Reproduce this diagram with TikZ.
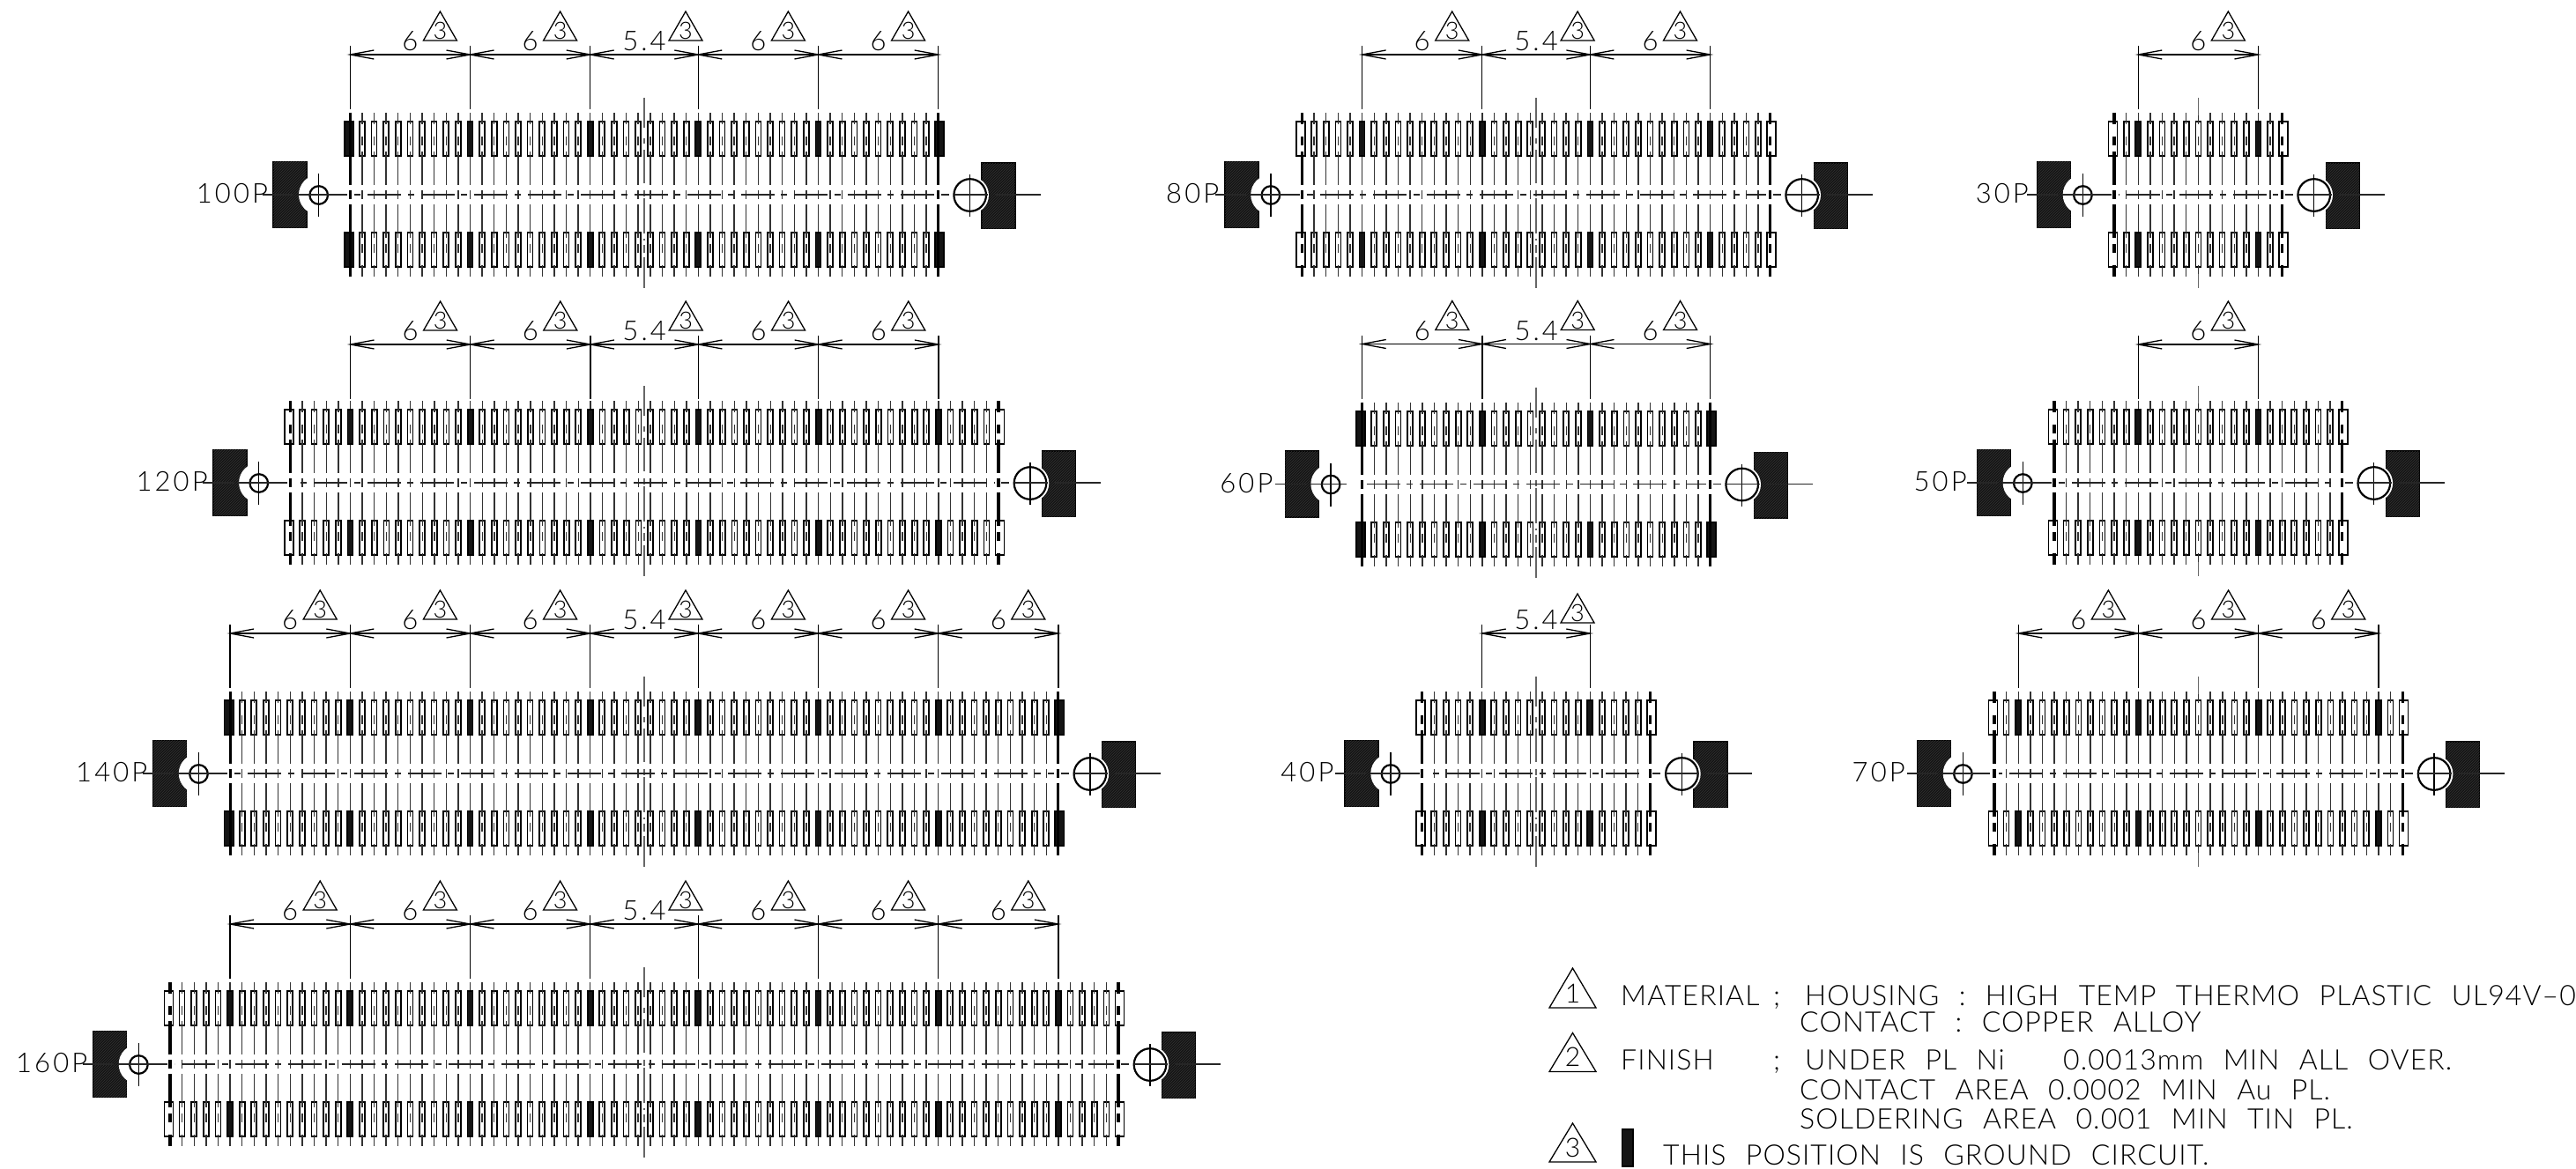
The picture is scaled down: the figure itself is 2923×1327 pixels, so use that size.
\documentclass[tikz,border=0pt]{standalone}
\usepackage{fontspec}
\usetikzlibrary{patterns}
\newfontfamily\cad[LetterSpace=3.3,WordSpace=2.3]{Lato Light}
\newfontfamily\cadn[LetterSpace=10]{Lato Light}
\newcommand{\cadsize}[1]{\cad\fontsize{#1}{#1}\selectfont}
\newcommand{\cadnum}[1]{\cadn\fontsize{#1}{#1}\selectfont}
\definecolor{blk}{HTML}{141414}
\definecolor{leadc}{HTML}{333333}
\tikzset{
 padst/.style={draw=black,fill=white,line width=1.7pt},
 gndst/.style={draw=black,fill=blk,line width=1.7pt},
 leadst/.style={draw=leadc,line width=1.4pt},
 thick lead/.style={draw=black,line width=3.2pt},
 dimst/.style={draw=black,line width=1.3pt},
 clampst/.style={draw=black,fill=blk,line width=1.4pt},
 hatchst/.style={pattern=north east lines,pattern color=black!80},
 holest/.style={draw=black,line width=2.2pt},
 centerst/.style={draw=black!60,line width=2pt},
 chainst/.style={draw=black!85,line width=1.4pt},
 txt/.style={inner sep=0pt,text=black},
 triangst/.style={draw=black,line width=1.3pt},
}
\def\dimshift{0}
\newcommand{\leadchain}[2]{%
 \draw[#2] (#1,-93)--(#1,-80) (#1,-66)--(#1,-56) (#1,-49)--(#1,-11)
  (#1,-5)--(#1,5)
  (#1,11)--(#1,49) (#1,56)--(#1,66) (#1,80)--(#1,93);}
% x0, cy, pins, dimension pairs, label, label end, chain phase, triangle shift, left line end
\newcommand{\conn}[9]{%
\begin{scope}[shift={(#1,#2)}]
 \pgfmathtruncatemacro\Inner{#3-2}
 \pgfmathsetmacro\W{13.62*(#3-1)}
 \pgfmathsetmacro\Mid{\W/2}
 \foreach \k in {1,...,\Inner}{
  \pgfmathsetmacro\px{13.62*\k}
  \draw[padst] (\px-3,-82.7) rectangle (\px+3,-43.8);
  \draw[padst] (\px-3,43.3) rectangle (\px+3,82.2);
  \leadchain{\px}{leadst}
 }
 \draw[padst] (-6.5,-82.7) rectangle (3.6,-43.8);
 \draw[padst] (-6.5,43.3) rectangle (3.6,82.2);
 \draw[padst] (\W-3.6,-82.7) rectangle (\W+6.5,-43.8);
 \draw[padst] (\W-3.6,43.3) rectangle (\W+6.5,82.2);
 \leadchain{0}{thick lead}
 \leadchain{\W}{thick lead}
 \ifodd#3\relax
  \draw[centerst,line width=1.4pt] (\Mid,-110)--(\Mid,-90) (\Mid,90)--(\Mid,106);
 \else
  \draw[centerst] (\Mid,-110)--(\Mid,-76) (\Mid,-64)--(\Mid,-58) (\Mid,-51)--(\Mid,-13)
    (\Mid,-5)--(\Mid,2) (\Mid,4)--(\Mid,44) (\Mid,50)--(\Mid,52) (\Mid,57)--(\Mid,66) (\Mid,71)--(\Mid,106);
 \fi
 \foreach \a/\b in {#4}{
  \pgfmathsetmacro\xa{13.62*\a}
  \pgfmathsetmacro\xb{13.62*\b}
  \pgfmathsetmacro\xm{(\xa+\xb)/2}
  \pgfmathtruncatemacro\d{\b-\a}
  \foreach \g in {\a,\b}{
   \pgfmathsetmacro\xg{13.62*\g}
   \pgfmathtruncatemacro\isl{\g==0 ? 1 : 0}
   \pgfmathtruncatemacro\isr{\g==#3-1 ? 1 : 0}
   \ifnum\isl=1
    \draw[gndst] (-6.5,-82.7) rectangle (3.6,-43.8);
    \draw[gndst] (-6.5,43.3) rectangle (3.6,82.2);
    \draw[thick lead] (0,-93)--(0,-11) (0,11)--(0,93);
   \else\ifnum\isr=1
    \draw[gndst] (\W-3.6,-82.7) rectangle (\W+6.5,-43.8);
    \draw[gndst] (\W-3.6,43.3) rectangle (\W+6.5,82.2);
    \draw[thick lead] (\W,-93)--(\W,-11) (\W,11)--(\W,93);
   \else
    \draw[gndst] (\xg-3,-82.7) rectangle (\xg+3,-43.8);
    \draw[gndst] (\xg-3,43.3) rectangle (\xg+3,82.2);
   \fi\fi
  }
  \begin{scope}[shift={(0,\dimshift)}]
  \draw[dimst] (\xa,-169)--(\xa,-97) (\xb,-169)--(\xb,-97);
  \draw[dimst] (\xa,-159)--(\xb,-159);
  \draw[dimst] (\xa+27,-164)--(\xa,-159)--(\xa+27,-154);
  \draw[dimst] (\xb-27,-164)--(\xb,-159)--(\xb-27,-154);
  \ifnum\d=9
   \node[txt,name=dim-#5-\a] at (\xm,-174) {\cadnum{31}5.4};
   \pgfmathsetmacro\xt{\xm+47}
  \else
   \node[txt,name=dim-#5-\a] at (\xm,-174) {\cadnum{31}6};
   \pgfmathsetmacro\xt{\xm+34}
  \fi
  \draw[triangst] (\xt-19,-175+#8)--(\xt+19,-175+#8)--(\xt,-208+#8)--cycle;
  \node[txt,name=tri-#5-\a] at (\xt,-186+#8) {\cadsize{27}3};
  \end{scope}
 }
 \fill[clampst] (-87.5,-37.5) rectangle (-49.5,37.5);
 \fill[hatchst] (-87.5,-37.5) rectangle (-49.5,37.5);
 \fill[white] (-35.6,0) circle (22.7);
 \fill[clampst] (\W+49.5,-36) rectangle (\W+87.5,38.5);
 \fill[hatchst] (\W+49.5,-36) rectangle (\W+87.5,38.5);
 \fill[white] (\W+36,0.5) circle (21.3);
 \draw[holest] (-35.6,0.5) circle (10.3);
 \draw[holest] (\W+36,0.5) circle (18.3);
 \draw[dimst] (-35.6,-24)--(-35.6,25) (\W+36,-23)--(\W+36,25);
 \draw[chainst] (-99,0)--(-64,0) (-59,0)--(#9,0) (\W+3,0)--(\W+12,0) (\W+18,0)--(\W+56,0) (\W+64,0)--(\W+116,0);
 \pgfmathsetmacro\ph{60.5+5-#7}
 \draw[chainst,dash pattern=on 38pt off 7.5pt on 7pt off 8pt,dash phase=\ph pt] (5,0)--(\W-5,0);
 \node[txt,anchor=east,name=lab-#5] at (#6,-1) {\cadnum{31}#5};
\end{scope}}
\begin{document}
\begin{tikzpicture}[x=1pt,y=-1pt]
\useasboundingbox (0,0) rectangle (2923,1327);
\conn{397.3}{221}{50}{0/10,10/20,20/29,29/39,39/49}{100P}{-93}{20}{0}{-3}
\def\dimshift{2}
\conn{329.4}{548}{60}{5/15,15/25,25/34,34/44,44/54}{120P}{-93.5}{27}{0}{-3}
\def\dimshift{0}
\conn{261.1}{878}{70}{0/10,10/20,20/30,30/39,39/49,49/59,59/69}{140P}{-93.5}{20}{0}{-3}
\conn{193}{1208}{80}{5/15,15/25,25/35,35/44,44/54,54/64,64/74}{160P}{-93.5}{13}{0}{-3}
\conn{1477.5}{221}{40}{5/15,15/24,24/34}{80P}{-94}{20}{0}{-3}
\conn{1545.7}{549.5}{30}{0/10,10/19,19/29}{60P}{-101}{5}{0}{-18}
\conn{1613.6}{878}{20}{5/14}{40P}{-100}{27}{4}{-3}
\conn{2399}{221}{15}{2/12}{30P}{-97}{13.7}{0}{-3}
\def\dimshift{2}
\conn{2330.9}{548}{25}{7/17}{50P}{-99}{20}{0}{-3}
\def\dimshift{0}
\conn{2263}{878}{35}{2/12,12/22,22/32}{70P}{-101}{17}{0}{-5}
% notes
\draw[triangst] (1758,1144)--(1811,1144)--(1784.5,1099)--cycle;
\node[txt,name=n1] at (1784.5,1128) {\cadsize{30}1};
\draw[triangst] (1758,1216.5)--(1811,1216.5)--(1784.5,1172.5)--cycle;
\node[txt,name=n2] at (1784.5,1200) {\cadsize{30}2};
\draw[triangst] (1758,1319)--(1811,1319)--(1784.5,1275)--cycle;
\node[txt,name=n3] at (1784.5,1303) {\cadsize{30}3};
\node[txt,anchor=base west,name=l1a] at (1839,1141) {\cadsize{32}MATERIAL};
\node[txt,anchor=base west,name=l1b] at (2012,1141) {\cadsize{32};};
\node[txt,anchor=base west,name=l1c] at (2048,1141) {\cadsize{32}HOUSING : HIGH TEMP THERMO PLASTIC UL94V–0};
\node[txt,anchor=base west,name=l2] at (2042,1171.5) {\cadsize{32}CONTACT : COPPER ALLOY};
\node[txt,anchor=base west,name=l3a] at (1839,1214) {\cadsize{32}FINISH};
\node[txt,anchor=base west,name=l3b] at (2012,1214) {\cadsize{32};};
\node[txt,anchor=base west,name=l3c] at (2048,1214) {\cadsize{32}UNDER PL Ni\hspace{44pt} 0.0013mm MIN ALL OVER.};
\node[txt,anchor=base west,name=l4] at (2042,1248.5) {\cadsize{32}CONTACT AREA 0.0002 MIN Au PL.};
\node[txt,anchor=base west,name=l5] at (2042,1281.5) {\cadsize{32}SOLDERING AREA 0.001 MIN TIN PL.};
\fill[clampst] (1840.5,1282) rectangle (1852.8,1324);
\node[txt,anchor=base west,name=l6] at (1887,1322) {\cadsize{32}THIS POSITION IS GROUND CIRCUIT.};
\end{tikzpicture}
\end{document}
